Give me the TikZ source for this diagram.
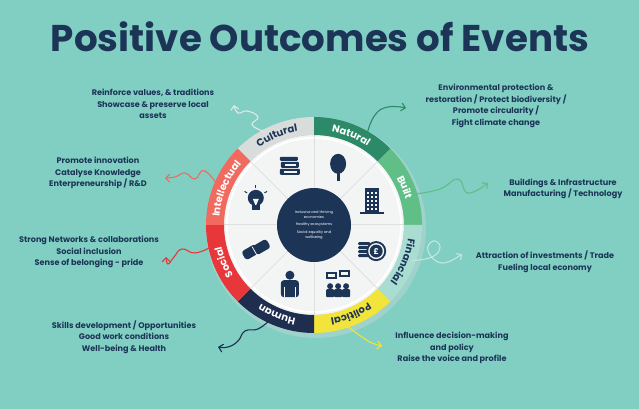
\documentclass[tikz,border=0pt]{standalone}
\usepackage{fontspec}
\usepackage{graphicx}
\setmainfont{Poppins}
\usetikzlibrary{calc,decorations.text,arrows.meta}
\definecolor{bg}{HTML}{80CFC2}
\definecolor{navy}{HTML}{1C3557}
\definecolor{cult}{HTML}{D8DCDB}
\definecolor{natc}{HTML}{2C8A68}
\definecolor{bltc}{HTML}{5FBF87}
\definecolor{finc}{HTML}{A9DDD2}
\definecolor{polc}{HTML}{F2E43A}
\definecolor{humc}{HTML}{1F2D4F}
\definecolor{socc}{HTML}{E8373B}
\definecolor{intc}{HTML}{F06A60}
\definecolor{seg}{HTML}{F3F4F4}
\tikzset{
 lab/.style={align=center,text=navy,font=\bfseries\fontsize{8.1}{11.5}\selectfont},
 arr/.style={line width=1.1pt,-{Straight Barb[length=4pt,width=8pt]}},
 ico/.style={fill=navy,draw=none},
}
\newcommand{\band}[4]{%
 \fill[#3] ($(C)+(#1:108pt)$) arc[start angle=#1,end angle=#2,radius=108pt] -- ($(C)+(#2:90pt)$) arc[start angle=#2,end angle=#1,radius=90pt] -- cycle;}
\newcommand{\bandtext}[4]{%
 \path[decorate,decoration={text along path,text align=center,text={|\color{#3}\bfseries\fontsize{10}{10}\selectfont|#4}}] ($(C)+(#2:95pt)$) arc[start angle=#2,end angle=#1,radius=95pt];}
\begin{document}
\begin{tikzpicture}[x=1pt,y=1pt]
\fill[bg] (0,0) rectangle (639,409);
\useasboundingbox (0,0) rectangle (639,409);
\coordinate (C) at (314,184);
\node[text=navy] (title) at (320,372) {\resizebox{538pt}{!}{\bfseries Positive Outcomes of Events}};
% wheel
\fill[black!15,opacity=.35] ($(C)+(2,-3)$) circle (110pt);
\fill[seg] (C) circle (90pt);
\fill[white] (C) circle (88pt);
\fill[seg] (C) circle (86pt);
\foreach \a in {0,45,...,315} \draw[black!12,line width=1pt] ($(C)+(\a:36pt)$) -- ($(C)+(\a:90pt)$);
\band{90}{135}{cult}{}
\band{45}{90}{natc}{}
\band{0}{45}{bltc}{}
\band{-45}{0}{finc}{}
\band{-90}{-45}{polc}{}
\band{-135}{-90}{humc}{}
\band{180}{225}{socc}{}
\band{135}{180}{intc}{}
\bandtext{90}{135}{navy}{Cultural}
\bandtext{45}{90}{white}{Natural}
\bandtext{0}{45}{white}{Built}
\bandtext{-45}{0}{navy}{Financial}
\bandtext{-90}{-45}{navy}{Political}
\bandtext{-135}{-90}{white}{Human}
\bandtext{180}{225}{white}{Social}
\bandtext{135}{180}{white}{Intellectual}
% centre
\fill[navy] (C) circle (37pt);
\node[text=white,align=center,font=\fontsize{3.6}{4.6}\selectfont] (ctr) at (C) {Inclusive and thriving\\economies\\[3pt]Healthy ecosystems\\[3pt]Social equality and\\wellbeing};
% icons
\begin{scope}[shift={($(C)+(112.5:63pt)$)}]
 \fill[ico,rounded corners=1pt] (-10,-8) rectangle (10,-2); \fill[ico,rounded corners=1pt] (-9,-1) rectangle (9,5); \fill[ico,rounded corners=1pt] (-10,6) rectangle (8,10);
 \fill[seg] (-6,-6) rectangle (7,-4); \fill[seg] (-5,1) rectangle (6,3);
\end{scope}
\begin{scope}[shift={($(C)+(67.5:63pt)$)}]
 \fill[ico] (-1.5,-14) rectangle (1.5,0); \fill[ico] (0,3) ellipse (8pt and 10pt);
\end{scope}
\begin{scope}[shift={($(C)+(22.5:63pt)$)}]
 \fill[ico] (-7,-13) rectangle (7,13); \fill[ico] (-12,-13) rectangle (12,-11);
 \foreach \i in {-4,0,4} \foreach \j in {-8,-4,...,8} \fill[seg] (\i-1,\j-1) rectangle (\i+1,\j+1);
\end{scope}
\begin{scope}[shift={($(C)+(-22.5:63pt)$)}]
 \foreach \j in {-8,-4,0,4} \fill[ico,rounded corners=1pt] (-14,\j) rectangle (-2,\j+3);
 \fill[ico] (4,-2) circle (10pt); \fill[seg] (4,-2) circle (8pt); \fill[ico] (4,-2) circle (6.5pt);
 \node[text=white,font=\bfseries\fontsize{8}{8}\selectfont] (pound) at (4,-2) {£};
\end{scope}
\begin{scope}[shift={($(C)+(-67.5:63pt)$)}]
 \foreach \i in {-8,0,8} {\fill[ico] (\i,-3) circle (3pt); \fill[ico,rounded corners=1pt] (\i-4,-14) rectangle (\i+4,-6);}
 \fill[ico] (-12,4) rectangle (-1,11); \fill[ico] (1,6) rectangle (12,13);
 \fill[seg] (-10,6) rectangle (-3,9); \fill[seg] (3,8) rectangle (10,11);
\end{scope}
\begin{scope}[shift={($(C)+(-112.5:63pt)$)}]
 \fill[ico] (0,8) circle (4.5pt); \fill[ico,rounded corners=3pt] (-9,-14) rectangle (9,3);
 \fill[seg] (-6,-14) rectangle (-5,-4); \fill[seg] (5,-14) rectangle (6,-4);
\end{scope}
\begin{scope}[shift={($(C)+(-157.5:63pt)$)},rotate=30]
 \fill[ico,rounded corners=3pt] (-14,-5) rectangle (2,5); \fill[ico,rounded corners=3pt] (-2,-6) rectangle (14,4);
 \draw[seg,line width=.8pt] (-2,-6) -- (-2,4);
\end{scope}
\begin{scope}[shift={($(C)+(157.5:63pt)$)}]
 \fill[ico] (0,3) circle (8pt); \fill[ico] (-4,-9) rectangle (4,-2);
 \fill[seg] (-3,2) -- (3,2) -- (0.5,-4) -- (-0.5,-4) -- cycle;
 \foreach \a in {30,90,150} \draw[navy,line width=1pt] ($(0,3)+(\a:10pt)$) -- ($(0,3)+(\a:13pt)$);
\end{scope}
% labels
\node[lab] (tcult) at (153,305) {Reinforce values, \& traditions\\Showcase \& preserve local\\assets};
\node[lab] (tnat) at (496,303) {Environmental protection \&\\restoration / Protect biodiversity /\\Promote circularity /\\Fight climate change};
\node[lab] (tint) at (98,236) {Promote innovation\\Catalyse Knowledge\\Enterpreneurship / R\&D};
\node[lab] (tblt) at (563,220) {Buildings \& Infrastructure\\Manufacturing / Technology};
\node[lab] (tsoc) at (89,157) {Strong Networks \& collaborations\\Social inclusion\\Sense of belonging - pride};
\node[lab] (tfin) at (545,147) {Attraction of investments / Trade\\Fueling local economy};
\node[lab] (thum) at (124,72) {Skills development / Opportunities\\Good work conditions\\Well-being \& Health};
\node[lab] (tpol) at (452,61) {Influence decision-making\\and policy\\Raise the voice and profile};
% arrows
\coordinate (aC) at ($(C)+(118:106pt)$);
\coordinate (aN) at ($(C)+(60:107pt)$);
\coordinate (aI) at ($(C)+(160:98pt)$);
\coordinate (aB) at ($(C)+(17:106pt)$);
\coordinate (aS) at ($(C)+(192:105pt)$);
\coordinate (aF) at ($(C)+(-20:104pt)$);
\coordinate (aH) at ($(C)+(-115:105pt)$);
\coordinate (aP) at ($(C)+(-72:106pt)$);
\draw[arr,cult!70!white] plot[smooth,tension=.8] coordinates {(aC) (252,284) (258,292) (247,298) (238,296) (234,304)};
\draw[arr,natc] plot[smooth,tension=.8] coordinates {(aN) (375,294) (388,302) (406,301)};
\draw[arr,intc] plot[smooth,tension=.8] coordinates {(aI) (205,238) (195,230) (185,236) (175,232) (165,231)};
\draw[arr,bltc] plot[smooth,tension=.8] coordinates {(aB) (440,220) (458,230) (468,216) (488,226)};
\draw[arr,socc] plot[smooth,tension=.8] coordinates {(aS) (195,156) (182,160) (174,152) (168,145) (166,152)};
\draw[arr,finc!70!white] plot[smooth,tension=.8] coordinates {(aF) (432,152) (440,162) (433,168) (428,158) (442,146) (462,155)};
\draw[arr,humc] plot[smooth,tension=.8] coordinates {(aH) (258,80) (245,78) (238,68) (228,62) (218,62)};
\draw[arr,polc] plot[smooth,tension=.8] coordinates {(aP) (362,72) (372,66) (382,63)};
\end{tikzpicture}
\end{document}
